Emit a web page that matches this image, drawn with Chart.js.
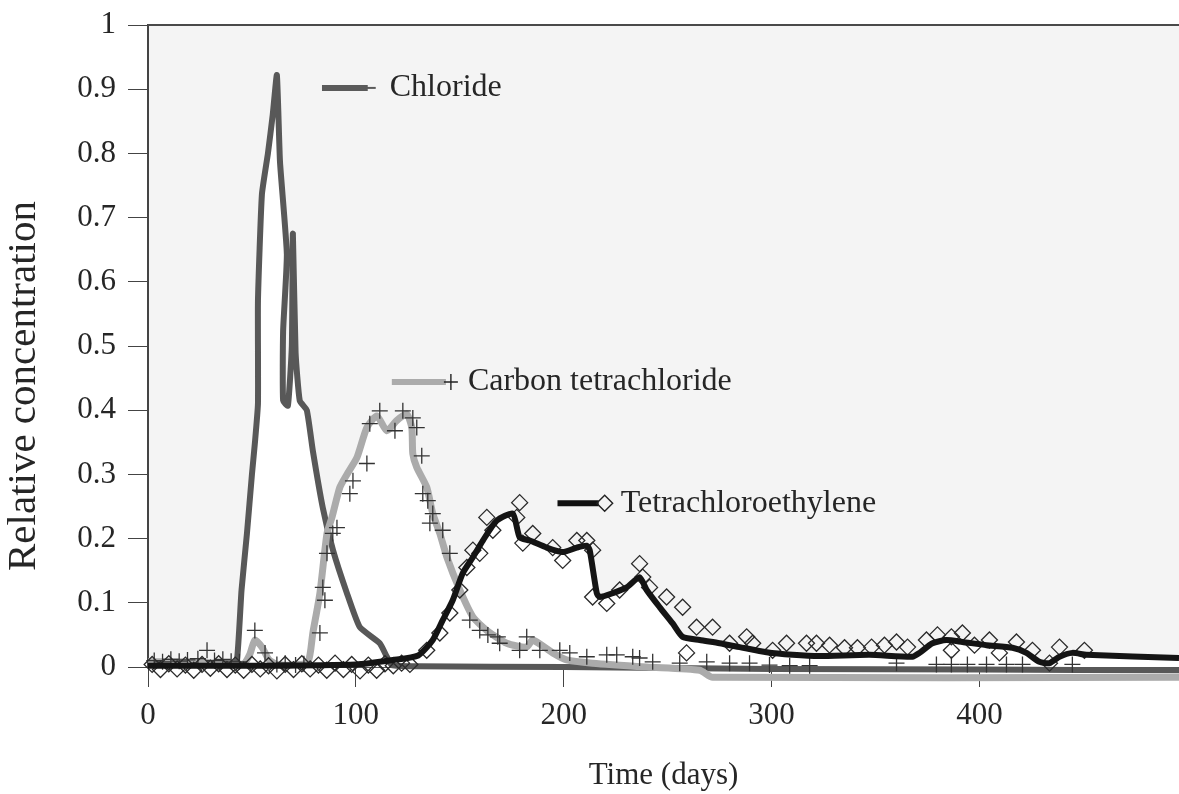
<!DOCTYPE html>
<html>
<head>
<meta charset="utf-8">
<script src="https://cdn.jsdelivr.net/npm/chart.js@4.4.1/dist/chart.umd.min.js"></script>
<style>
    html, body { margin: 0; padding: 0; background: #ffffff; overflow: hidden; }
    #wrap { width: 1179px; height: 794px; overflow: hidden; }
    canvas { display: block; }
</style>
</head>
<body>
<div id="wrap"><canvas id="breakthroughChart" width="1179" height="794"></canvas></div>
<script>
// x tick labels (days) and y ticks
const xTicks = [0, 100, 200, 300, 400];
const yTicks = [0, 0.1, 0.2, 0.3, 0.4, 0.5, 0.6, 0.7, 0.8, 0.9, 1];

// Chloride fitted curve
const chlorideDays = [0, 20, 40, 42.8, 45, 47.6, 50, 51.4, 52.9, 52.9, 54.8, 57.7, 60, 62, 63.5, 66.8, 65, 65, 67.3, 69.2, 69.7, 71, 73, 76.4, 79.3, 84.1, 89, 95.7, 101.9, 111.5, 114.9, 117.3, 130, 200, 300, 400, 496];
const chlorideValues = [0.003, 0.003, 0.004, 0.011, 0.12, 0.208, 0.3, 0.348, 0.41, 0.57, 0.736, 0.80, 0.86, 0.922, 0.787, 0.643, 0.523, 0.415, 0.407, 0.5, 0.675, 0.49, 0.415, 0.40, 0.337, 0.248, 0.182, 0.115, 0.062, 0.037, 0.016, 0.003, 0.001, 0, -0.003, -0.004, -0.005];

// Carbon tetrachloride curve
const carbonDays = [0, 20, 40, 46, 49, 51.4, 55, 58, 62, 70, 77, 79.3, 82.7, 86.1, 88.5, 92.3, 95.7, 100.5, 105.3, 110.1, 114.9, 119.7, 124.5, 126.9, 127.4, 129.3, 134.1, 137, 140.4, 143.8, 150, 156.3, 163, 172.6, 182.2, 185.1, 194.7, 201.4, 213.9, 239.9, 265.4, 271.6, 496];
const carbonValues = [0.008, 0.008, 0.005, 0.005, 0.02, 0.042, 0.03, 0.012, 0.004, 0.003, 0.008, 0.053, 0.115, 0.208, 0.233, 0.28, 0.30, 0.326, 0.373, 0.391, 0.368, 0.384, 0.394, 0.373, 0.332, 0.311, 0.28, 0.239, 0.208, 0.171, 0.12, 0.078, 0.057, 0.037, 0.031, 0.042, 0.022, 0.011, 0.006, 0, -0.005, -0.016, -0.016];

// Carbon tetrachloride measured points (+)
const carbonObsDays = [3, 7, 11, 15, 19, 24, 28.4, 32, 36, 40, 44, 51.4, 56.3, 62, 66, 71, 75, 82.7, 84.1, 85.1, 86.1, 88.9, 90.9, 97.1, 98.6, 105.3, 106.7, 111.5, 118.8, 122.6, 127.4, 129.3, 131.7, 132.2, 134.6, 135.6, 137, 141.8, 145.2, 154.8, 159.6, 163.5, 168.3, 169.2, 178.8, 182.2, 188.5, 198.1, 202.9, 211.1, 220.7, 225.5, 233.2, 236.5, 242.8, 255.8, 268.8, 279.8, 289.4, 299, 308.7, 318.3, 360.1, 379.3, 386.5, 394.2, 403.4, 413, 420.7, 444.7];
const carbonObsValues = [0.01, 0.008, 0.012, 0.009, 0.011, 0.013, 0.026, 0.01, 0.012, 0.009, 0.008, 0.057, 0.022, 0.004, 0.006, 0.003, 0.005, 0.053, 0.124, 0.104, 0.177, 0.208, 0.217, 0.27, 0.29, 0.317, 0.379, 0.399, 0.368, 0.399, 0.388, 0.373, 0.329, 0.27, 0.259, 0.224, 0.239, 0.213, 0.177, 0.073, 0.057, 0.05, 0.047, 0.037, 0.026, 0.047, 0.026, 0.026, 0.022, 0.016, 0.019, 0.019, 0.016, 0.014, 0.008, 0.006, 0.008, 0.006, 0.006, 0.003, 0.002, 0.002, 0.006, 0.004, 0.004, 0.004, 0.004, 0.004, 0.004, 0.004];

// Tetrachloroethylene curve
const pceDays = [0, 50, 100, 117.8, 130, 137, 141.8, 146.6, 151.4, 156.3, 161.1, 167.8, 175.5, 178.8, 183.7, 191.8, 199.5, 206.3, 211.1, 212.5, 215.9, 217.3, 223.6, 230.3, 236.5, 239.9, 246.2, 252.4, 257.2, 265.4, 275, 284.6, 297.6, 310.1, 323.1, 347.1, 367.8, 371.2, 377.4, 384.1, 391.8, 403.4, 415.9, 422.6, 428.8, 433.7, 438.5, 444.7, 451.4, 496];
const pceValues = [0.002, 0.002, 0.004, 0.011, 0.018, 0.042, 0.073, 0.104, 0.146, 0.171, 0.197, 0.228, 0.239, 0.202, 0.197, 0.186, 0.179, 0.186, 0.189, 0.182, 0.115, 0.109, 0.115, 0.124, 0.14, 0.12, 0.093, 0.068, 0.047, 0.042, 0.037, 0.031, 0.023, 0.019, 0.017, 0.019, 0.016, 0.022, 0.037, 0.042, 0.039, 0.034, 0.03, 0.022, 0.008, 0.006, 0.016, 0.022, 0.019, 0.014];

// Tetrachloroethylene measured points (diamonds)
const pceObsDays = [2, 6, 10, 14, 18, 22, 26, 30, 34, 38, 42, 46, 50, 54, 58, 62, 66, 70, 74, 78, 82, 86, 90, 94, 98, 102, 106, 110, 114, 118, 122, 126, 134.1, 140.4, 145.2, 150, 153.4, 156.3, 159.6, 163, 165.9, 177.4, 178.8, 180.3, 185.1, 194.7, 199.5, 206.3, 211.1, 213.9, 213.9, 220.7, 226.9, 236.5, 238, 241.3, 249.5, 257.2, 259.1, 263.9, 271.6, 279.8, 288, 290.9, 300.5, 307.2, 316.8, 321.6, 327.9, 335.1, 341.3, 348.1, 354.3, 360.1, 365.4, 374.5, 379.8, 386.5, 386.5, 391.8, 397.6, 404.8, 409.6, 417.8, 425.5, 433.7, 438.5, 450.5];
const pceObsValues = [0.004, -0.004, 0.005, -0.003, 0.003, -0.005, 0.004, -0.002, 0.005, -0.004, 0.003, -0.005, 0.004, -0.003, 0.002, -0.006, 0.004, -0.004, 0.005, -0.003, 0.003, -0.005, 0.006, -0.004, 0.004, -0.006, 0.003, -0.005, 0.005, 0.002, 0.006, 0.004, 0.026, 0.053, 0.084, 0.12, 0.155, 0.182, 0.177, 0.233, 0.213, 0.233, 0.256, 0.193, 0.208, 0.186, 0.166, 0.197, 0.197, 0.182, 0.109, 0.099, 0.12, 0.161, 0.14, 0.124, 0.109, 0.093, 0.022, 0.062, 0.062, 0.037, 0.047, 0.037, 0.026, 0.037, 0.037, 0.037, 0.034, 0.03, 0.03, 0.031, 0.034, 0.039, 0.031, 0.042, 0.05, 0.047, 0.026, 0.053, 0.034, 0.042, 0.022, 0.039, 0.026, 0.006, 0.031, 0.026];

const FONT = "'Liberation Serif', 'Times New Roman', serif";
const TEXT_COLOR = '#262626';

// in-plot labels, anchored in data units
const labelItems = [
    { text: 'Chloride', from: 83.7, to: 108.6, y: 0.902, color: '#5a5a5a', width: 6, marker: 'none' },
    { text: 'Carbon tetrachloride', from: 117.3, to: 146.2, y: 0.444, color: '#ababab', width: 6, marker: 'cross' },
    { text: 'Tetrachloroethylene', from: 197, to: 219.7, y: 0.255, color: '#111111', width: 6, marker: 'diamond' }
];

function toPoints(xs, ys) {
    return xs.map(function(x, i) { return { x: x, y: ys[i] }; });
}

const plotBackground = {
    id: 'plotBackground',
    beforeDraw: function(chart) {
        const a = chart.chartArea;
        const ctx = chart.ctx;
        ctx.save();
        ctx.fillStyle = '#f4f4f4';
        ctx.fillRect(a.left, a.top, a.right - a.left, a.bottom - a.top);
        ctx.restore();
    },
    afterDraw: function(chart) {
        const a = chart.chartArea;
        const ctx = chart.ctx;
        ctx.save();
        // top frame line
        ctx.strokeStyle = '#4a4a4a';
        ctx.lineWidth = 2;
        ctx.beginPath();
        ctx.moveTo(a.left, a.top);
        ctx.lineTo(a.right, a.top);
        ctx.stroke();

        // y title, drawn by hand to sit where the original does
        ctx.fillStyle = TEXT_COLOR;
        ctx.font = '41px ' + FONT;
        ctx.textAlign = 'center';
        ctx.textBaseline = 'middle';
        ctx.translate(24, 386);
        ctx.rotate(-Math.PI / 2);
        ctx.fillText('Relative concentration', 0, 0);
        ctx.restore();
    }
};

const inlineLabels = {
    id: 'inlineLabels',
    afterDatasetsDraw: function(chart) {
        const ctx = chart.ctx;
        const xs = chart.scales.x;
        const ys = chart.scales.y;
        ctx.save();
        labelItems.forEach(function(item) {
            const x0 = xs.getPixelForValue(item.from);
            const x1 = xs.getPixelForValue(item.to);
            const y = ys.getPixelForValue(item.y);
            ctx.strokeStyle = item.color;
            ctx.lineWidth = item.width;
            ctx.beginPath();
            ctx.moveTo(x0, y);
            ctx.lineTo(x1 - 6, y);
            ctx.stroke();
            ctx.strokeStyle = '#222';
            ctx.lineWidth = 1.4;
            if (item.marker === 'cross') {
                ctx.beginPath();
                ctx.moveTo(x1 - 8, y); ctx.lineTo(x1 + 6, y);
                ctx.moveTo(x1 - 1, y - 8); ctx.lineTo(x1 - 1, y + 8);
                ctx.stroke();
            } else if (item.marker === 'diamond') {
                ctx.beginPath();
                ctx.moveTo(x1, y - 8); ctx.lineTo(x1 + 8, y);
                ctx.lineTo(x1, y + 8); ctx.lineTo(x1 - 8, y);
                ctx.closePath();
                ctx.stroke();
            } else {
                ctx.strokeStyle = item.color;
                ctx.lineWidth = 2;
                ctx.beginPath();
                ctx.moveTo(x1 - 8, y); ctx.lineTo(x1 + 2, y);
                ctx.stroke();
            }
            ctx.fillStyle = TEXT_COLOR;
            ctx.font = '32px ' + FONT;
            ctx.textAlign = 'left';
            ctx.textBaseline = 'middle';
            ctx.fillText(item.text, x1 + 16, y);
        });
        ctx.restore();
    }
};

function createBreakthroughChart() {
    const ctx = document.getElementById('breakthroughChart').getContext('2d');

    new Chart(ctx, {
        type: 'line',
        data: {
            datasets: [{
                label: 'Tetrachloroethylene',
                data: toPoints(pceDays, pceValues),
                borderColor: '#141414',
                backgroundColor: '#ffffff',
                borderWidth: 6,
                fill: 'origin',
                tension: 0.2,
                pointRadius: 0,
                clip: false,
                order: 0
            }, {
                label: 'Tetrachloroethylene data',
                data: toPoints(pceObsDays, pceObsValues),
                showLine: false,
                pointStyle: 'rectRot',
                pointRadius: 8,
                pointBorderColor: '#2a2a2a',
                pointBackgroundColor: 'rgba(255,255,255,0)',
                pointBorderWidth: 1.3,
                clip: false,
                order: 1
            }, {
                label: 'Carbon tetrachloride data',
                data: toPoints(carbonObsDays, carbonObsValues),
                showLine: false,
                pointStyle: 'cross',
                pointRadius: 8,
                pointBorderColor: '#333333',
                pointBorderWidth: 1.3,
                clip: false,
                order: 2
            }, {
                label: 'Carbon tetrachloride',
                data: toPoints(carbonDays, carbonValues),
                borderColor: '#ababab',
                backgroundColor: '#ffffff',
                borderWidth: 7,
                fill: 'origin',
                tension: 0.2,
                pointRadius: 0,
                clip: false,
                order: 3
            }, {
                label: 'Chloride',
                data: toPoints(chlorideDays, chlorideValues),
                borderColor: '#585858',
                backgroundColor: '#ffffff',
                borderWidth: 6,
                fill: 'origin',
                tension: 0.15,
                pointRadius: 0,
                clip: false,
                order: 4
            }]
        },
        options: {
            responsive: false,
            animation: false,
            devicePixelRatio: 1,
            layout: {
                autoPadding: false,
                padding: { top: 25, right: 0, left: 0, bottom: 0 }
            },
            scales: {
                x: {
                    type: 'linear',
                    min: 0,
                    max: 496,
                    afterFit: function(scale) {
                        scale.height = 127;
                        scale.paddingRight = 0;
                    },
                    afterBuildTicks: function(scale) {
                        scale.ticks = xTicks.map(function(v) { return { value: v }; });
                    },
                    ticks: {
                        padding: 10,
                        color: TEXT_COLOR,
                        font: { family: FONT, size: 31 },
                        maxRotation: 0
                    },
                    grid: {
                        drawOnChartArea: false,
                        drawTicks: true,
                        tickLength: 20,
                        color: '#444'
                    },
                    border: { display: true, color: '#555', width: 2 },
                    title: {
                        display: true,
                        text: 'Time (days)',
                        color: TEXT_COLOR,
                        font: { family: FONT, size: 31 },
                        padding: { top: 22, bottom: 0 }
                    }
                },
                y: {
                    min: 0,
                    max: 1,
                    afterFit: function(scale) {
                        scale.width = 148;
                        scale.paddingTop = 0;
                    },
                    afterBuildTicks: function(scale) {
                        scale.ticks = yTicks.map(function(v) { return { value: v }; });
                    },
                    ticks: {
                        padding: 12,
                        color: TEXT_COLOR,
                        font: { family: FONT, size: 31 },
                        callback: function(value) { return Number(value.toFixed(1)).toString(); }
                    },
                    grid: {
                        drawOnChartArea: false,
                        drawTicks: true,
                        tickLength: 20,
                        color: '#444'
                    },
                    border: { display: true, color: '#444', width: 2 }
                }
            },
            plugins: {
                legend: { display: false },
                tooltip: { enabled: false },
                filler: { drawTime: 'beforeDatasetsDraw' }
            }
        },
        plugins: [plotBackground, inlineLabels]
    });
}

document.addEventListener('DOMContentLoaded', createBreakthroughChart);
</script>
</body>
</html>
